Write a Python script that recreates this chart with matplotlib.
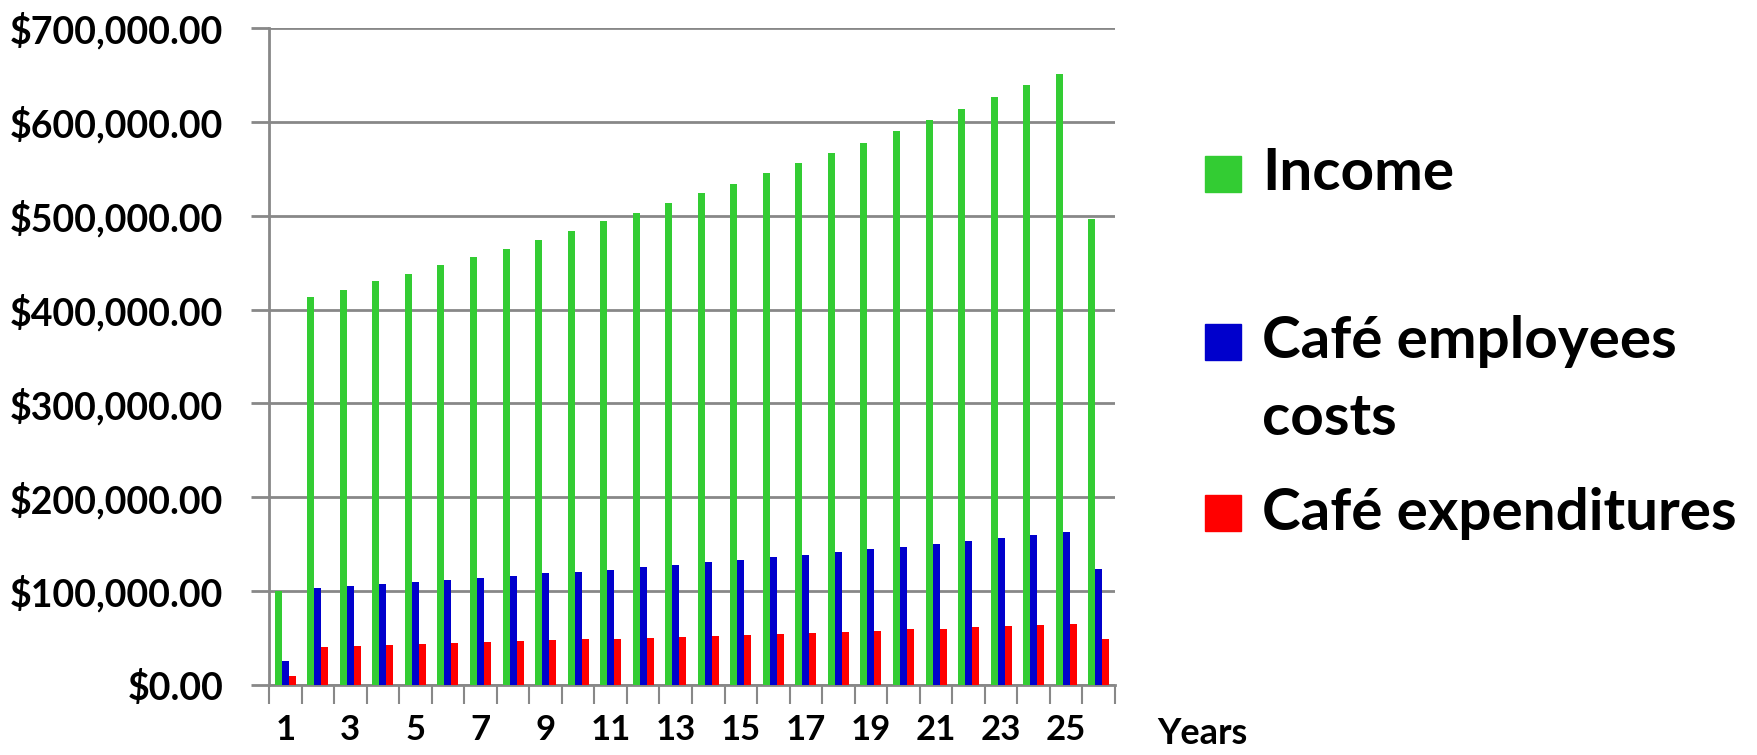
import matplotlib.pyplot as plt
import numpy as np
from matplotlib.patches import Rectangle
from matplotlib.ticker import FuncFormatter

plt.rcParams['font.family'] = ['Lato', 'DejaVu Sans']
plt.rcParams['font.weight'] = 'bold'

# Data
years = list(range(1, 27))
income = [100000, 413000, 421000, 430000, 438000, 447000, 456000, 465000, 474000,
          484000, 494000, 503000, 514000, 524000, 534000, 545000, 556000, 567000,
          578000, 590000, 602000, 614000, 626000, 639000, 651000, 496000]
employees = [25300, 103000, 105400, 107300, 109700, 111600, 114000, 116000, 118800,
             120700, 123000, 125500, 128300, 131000, 133600, 136500, 138800, 141700,
             144600, 147400, 150300, 153600, 156500, 159800, 162700, 123600]
expenditures = [10000, 41000, 42000, 43000, 43900, 44800, 45300, 46800, 47700,
                48700, 49100, 50100, 51500, 52500, 53400, 54400, 55800, 56800,
                57700, 59200, 60100, 61500, 62500, 63900, 65400, 49100]

series_names = ['Income', 'Café employees\ncosts', 'Café expenditures']
series_colors = ['#33CC33', '#0000CC', '#FF0000']

fig = plt.figure(figsize=(17.57, 7.55), dpi=100)
ax = fig.add_axes([269/1757, 1 - 685/755, (1115 - 269)/1757, (685 - 28)/755])

x = np.arange(len(years))
w = 0.215
for i, vals in enumerate([income, employees, expenditures]):
    ax.bar(x + (i - 1)*w, vals, w, color=series_colors[i], zorder=3)

ax.set_xlim(-0.5, len(years) - 0.5)
ax.set_ylim(0, 700000)
ax.set_yticks(np.arange(0, 700001, 100000))
ax.yaxis.set_major_formatter(FuncFormatter(lambda v, p: f"${v:,.2f}"))
ax.grid(axis='y', color='#888888', lw=2)
ax.set_axisbelow(True)

for s in ['top', 'right']:
    ax.spines[s].set_visible(False)
for s in ['left', 'bottom']:
    ax.spines[s].set_color('#888888')
    ax.spines[s].set_linewidth(2)

ax.tick_params(axis='y', length=13, width=2, color='#888888', pad=20, labelsize=27)
ax.set_xticks(x[::2])
ax.set_xticklabels([str(y) for y in years[::2]])
ax.tick_params(axis='x', which='major', length=0, pad=21, labelsize=25)
ax.set_xticks(np.arange(-0.5, len(years), 1), minor=True)
ax.tick_params(axis='x', which='minor', length=14, width=1.5, color='#888888')

fig.text(1157/1757, 1 - 734/755, 'Years', fontsize=26, ha='left', va='center')

# legend drawn by hand to keep the uneven spacing
leg_y = [174, 342, 513]
for name, col, yy in zip(series_names, series_colors, leg_y):
    fig.patches.append(Rectangle((1205/1757, 1 - (yy + 18)/755), 36/1757, 36/755,
                                 transform=fig.transFigure, color=col))
    if '\n' in name:
        fig.text(1262/1757, 1 - (yy - 27)/755, name, fontsize=42, ha='left', va='top',
                 linespacing=1.55)
    else:
        fig.text(1262/1757, 1 - yy/755, name, fontsize=42, ha='left', va='center')

fig.savefig('out.png', dpi=100)
